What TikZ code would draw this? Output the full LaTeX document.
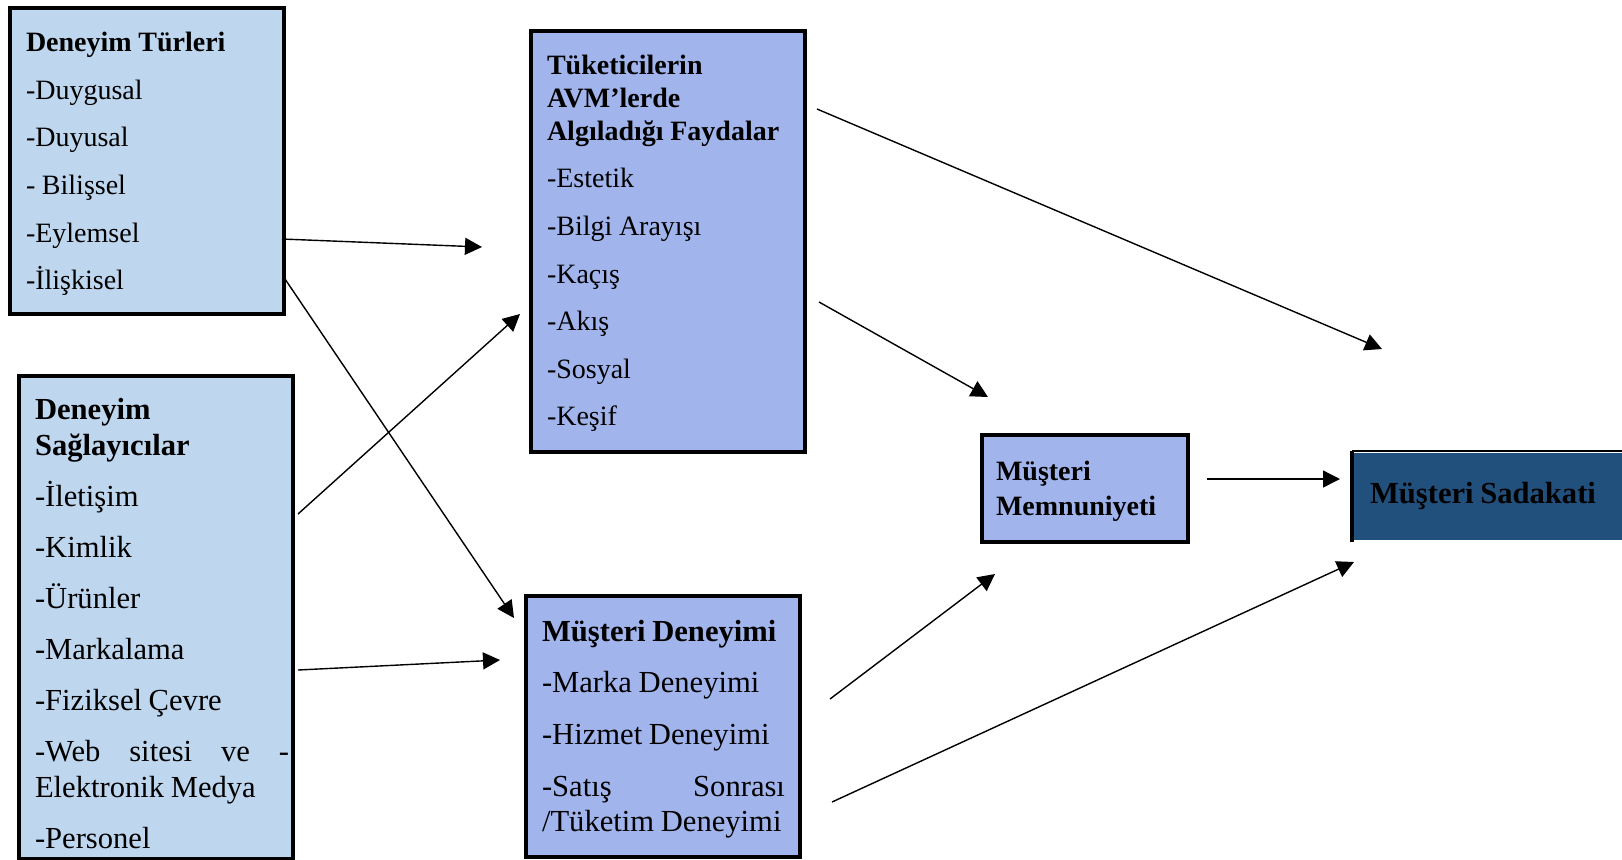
\documentclass[tikz,border=0pt]{standalone}
\usepackage{fontspec}
\setmainfont{Liberation Serif}
\usetikzlibrary{arrows.meta}

\definecolor{acikmavi}{RGB}{190,214,238}
\definecolor{lila}{RGB}{161,180,236}
\definecolor{lacivert}{RGB}{33,80,125}

\tikzset{
  kutu/.style={draw=black, line width=2pt, anchor=north west, inner xsep=8pt,
    text width=121pt, align=left, minimum width=137pt,
    execute at begin node={\fontsize{14pt}{17.5pt}\selectfont\setlength{\parskip}{#1}}},
  buyuk/.style={execute at begin node={\fontsize{15.3pt}{#1}\selectfont}},
  ok/.style={line width=0.7pt, -{Triangle[length=8.5pt,width=8.5pt]}}
}

\begin{document}
\begin{tikzpicture}[x=0.5pt,y=-0.5pt]
\useasboundingbox (0,0) rectangle (1622,859);
% sol kutular
\node[kutu=6.3pt, fill=acikmavi, minimum height=153pt, text height=12.6pt] (tur) at (8,6)
  {\textbf{Deneyim Türleri}\par -Duygusal\par -Duyusal\par - Bilişsel\par -Eylemsel\par -İlişkisel};
\node[kutu=7.5pt, buyuk=18pt, fill=acikmavi, minimum height=241.5pt, text height=16.6pt] (sag) at (17,374)
  {\textbf{Deneyim\break Sağlayıcılar}\par -İletişim\par -Kimlik\par -Ürünler\par -Markalama\par
   -Fiziksel Çevre\par \leavevmode\hbox to 127pt{-Web\hfill sitesi\hfill ve\hfill -}\break
   Elektronik Medya\par -Personel};
% orta kutular
\node[kutu=6.3pt, fill=lila, minimum height=210.5pt, text height=11.5pt] (fay) at (529,29)
  {{\baselineskip=16.5pt\textbf{Tüketicilerin\break AVM’lerde\break Algıladığı Faydalar}\par}
   -Estetik\par -Bilgi Arayışı\par -Kaçış\par -Akış\par -Sosyal\par -Keşif};
\node[kutu=8.4pt, buyuk=17.5pt, fill=lila, minimum height=130.5pt, text height=13pt] (den) at (524,594)
  {\textbf{Müşteri Deneyimi}\par -Marka Deneyimi\par -Hizmet Deneyimi\par
   \leavevmode\hbox to 121.5pt{-Satış\hfill Sonrası}\break /Tüketim~Deneyimi};
% sag kutular
\node[kutu=0pt, fill=lila, inner xsep=7pt, text width=89pt, minimum width=103pt,
  minimum height=53.5pt, text height=12.6pt] (mem) at (980,433) {\textbf{Müşteri\break Memnuniyeti}};
\node[kutu=0pt, draw=none, fill=lacivert, text width=133pt, minimum width=149pt,
  minimum height=43.5pt, font=\bfseries] (sad) at (1352,451)
  {\fontsize{15.3pt}{18pt}\selectfont Müşteri Sadakati};
\draw[line width=2pt] (sad.south west) -- (sad.north west);
\draw[line width=1pt] (sad.north west) -- (sad.north east);

% ok uclari
\coordinate (t1) at (282,239);  \coordinate (f1) at (482,247);
\coordinate (t2) at (285,279);  \coordinate (d1) at (514,618);
\coordinate (s1) at (298,514);  \coordinate (f2) at (520,314);
\coordinate (s2) at (298,670);  \coordinate (d2) at (500,660);
\coordinate (f3) at (817,109);  \coordinate (y1) at (1382,349);
\coordinate (f4) at (819,302);  \coordinate (m1) at (988,397);
\coordinate (d3) at (830,699);  \coordinate (m2) at (995,574);
\coordinate (d4) at (832,802);  \coordinate (y2) at (1354,562);
\coordinate (m3) at (1207,479); \coordinate (y3) at (1340,479);

\foreach \a/\b in {t1/f1,t2/d1,s1/f2,s2/d2,f3/y1,f4/m1,d3/m2,d4/y2,m3/y3}
  \draw[ok] (\a) -- (\b);
\end{tikzpicture}
\end{document}
